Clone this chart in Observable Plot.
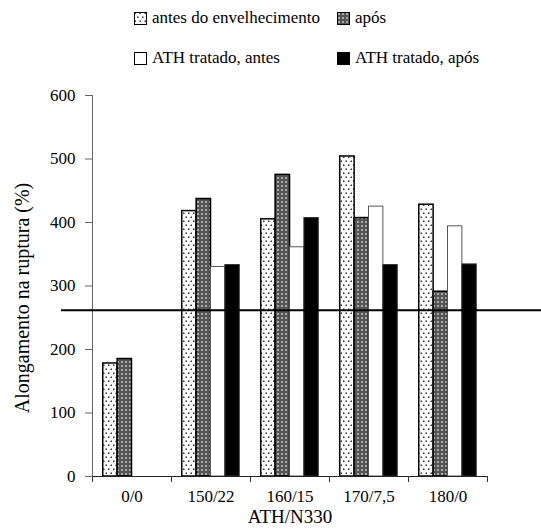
<!DOCTYPE html>
<html><head><meta charset="utf-8">
<script src="https://cdn.jsdelivr.net/npm/d3@7"></script>
<script src="https://cdn.jsdelivr.net/npm/@observablehq/plot@0.6"></script>
<style>
body{margin:0;background:#fff;font-family:'Liberation Serif','Times New Roman',Tinos,'DejaVu Serif',serif;}
#wrap{width:541px;}
#legend{position:relative;height:80px;font-size:17px;color:#000;}
.item{position:absolute;display:flex;align-items:center;white-space:nowrap;height:20px;}
.item svg{margin-right:5px;}
</style></head><body>
<svg width="0" height="0" style="position:absolute"><defs>
<pattern id="dots" patternUnits="userSpaceOnUse" width="5" height="8"><rect width="5" height="8" fill="#fff"/><rect x="0.5" y="0.5" width="1.5" height="1.5" fill="#333"/><rect x="3" y="4.5" width="1.5" height="1.5" fill="#333"/></pattern>
<pattern id="grid" patternUnits="userSpaceOnUse" width="4" height="4"><rect width="4" height="4" fill="#555"/><rect x="1" y="1" width="2" height="2" fill="#aaa"/></pattern>
</defs></svg>
<div id="wrap"><div id="legend"></div><div id="chart"></div></div>
<script>
const categories = ["0/0", "150/22", "160/15", "170/7,5", "180/0"];
const seriesNames = ["antes do envelhecimento", "após", "ATH tratado, antes", "ATH tratado, após"];
const antes = [178, 418, 405, 504, 428];
const apos = [185, 437, 475, 407, 291];
const athAntes = [null, 330, 361, 425, 394];
const athApos = [null, 333, 407, 333, 334];
const refLine = [262];
const yTicks = [0, 100, 200, 300, 400, 500, 600];
const xTitle = "ATH/N330";
const yTitle = "Alongamento na ruptura (%)";

const seriesValues = [antes, apos, athAntes, athApos];
const fills = ["url(#dots)", "url(#grid)", "#fff", "#000"];
const strokes = ["#000", "#000", "#555", "#333"];
const strokeWidths = [1.5, 1.5, 1, 1];
const FONT = "'Liberation Serif','Times New Roman',Tinos,'DejaVu Serif',serif";

// legend
const legend = document.getElementById("legend");
const legPos = [[134, 8], [337, 8], [134, 48], [337, 48]];
seriesNames.forEach((name, s) => {
  const it = document.createElement("div");
  it.className = "item";
  it.style.left = legPos[s][0] + "px";
  it.style.top = legPos[s][1] + "px";
  it.innerHTML = `<svg width="13" height="13"><rect x="0.5" y="0.5" width="12" height="12" fill="${fills[s]}" stroke="#000" stroke-width="1"/></svg><span>${name}</span>`;
  legend.appendChild(it);
});

const rows = [];
categories.forEach((c, i) => {
  seriesValues.forEach((vals, s) => {
    if (vals[i] != null) rows.push({cat: c, ci: i, s, value: vals[i]});
  });
});
const pad = 0.136, w = (1 - 2 * pad) / 4;
const boundaries = d3.range(categories.length + 1);
const centers = categories.map((c, i) => i + 0.5);

const chart = Plot.plot({
  width: 541, height: 449,
  marginTop: 15, marginBottom: 53, marginLeft: 92, marginRight: 54,
  style: {fontFamily: FONT, fontSize: "17px", color: "#000", background: "#fff", overflow: "visible"},
  x: {type: "linear", domain: [0, categories.length]},
  y: {domain: [0, 600]},
  marks: [
    ...seriesValues.map((_, s) => Plot.rectY(rows.filter(d => d.s === s), {
      x1: d => d.ci + pad + d.s * w,
      x2: d => d.ci + pad + (d.s + 1) * w,
      y1: 0, y2: "value",
      fill: fills[s], stroke: strokes[s], strokeWidth: strokeWidths[s]
    })),
    Plot.ruleX([0], {stroke: "#666"}),
    Plot.ruleY([0], {stroke: "#222"}),
    Plot.ruleY(refLine, {stroke: "#000", strokeWidth: 2, insetLeft: -31, insetRight: -54}),
    Plot.axisY({ticks: yTicks, tickSize: 7, tickPadding: 10, label: null, stroke: "#666", fontSize: 17, fontFamily: FONT}),
    Plot.axisX({ticks: boundaries, tickSize: 6, tickFormat: () => "", label: null, stroke: "#333"}),
    Plot.axisX({ticks: centers, tickSize: 0, tickPadding: 13, tickFormat: d => categories[Math.floor(d)], label: null, fontSize: 17, fontFamily: FONT}),
    Plot.text([yTitle], {frameAnchor: "left", textAnchor: "middle", rotate: -90, dx: -70, dy: 12, fontSize: 20, fontFamily: FONT}),
    Plot.text([xTitle], {frameAnchor: "bottom", dy: 46, fontSize: 19, fontFamily: FONT})
  ]
});
document.getElementById("chart").appendChild(chart);
</script>
</body></html>
